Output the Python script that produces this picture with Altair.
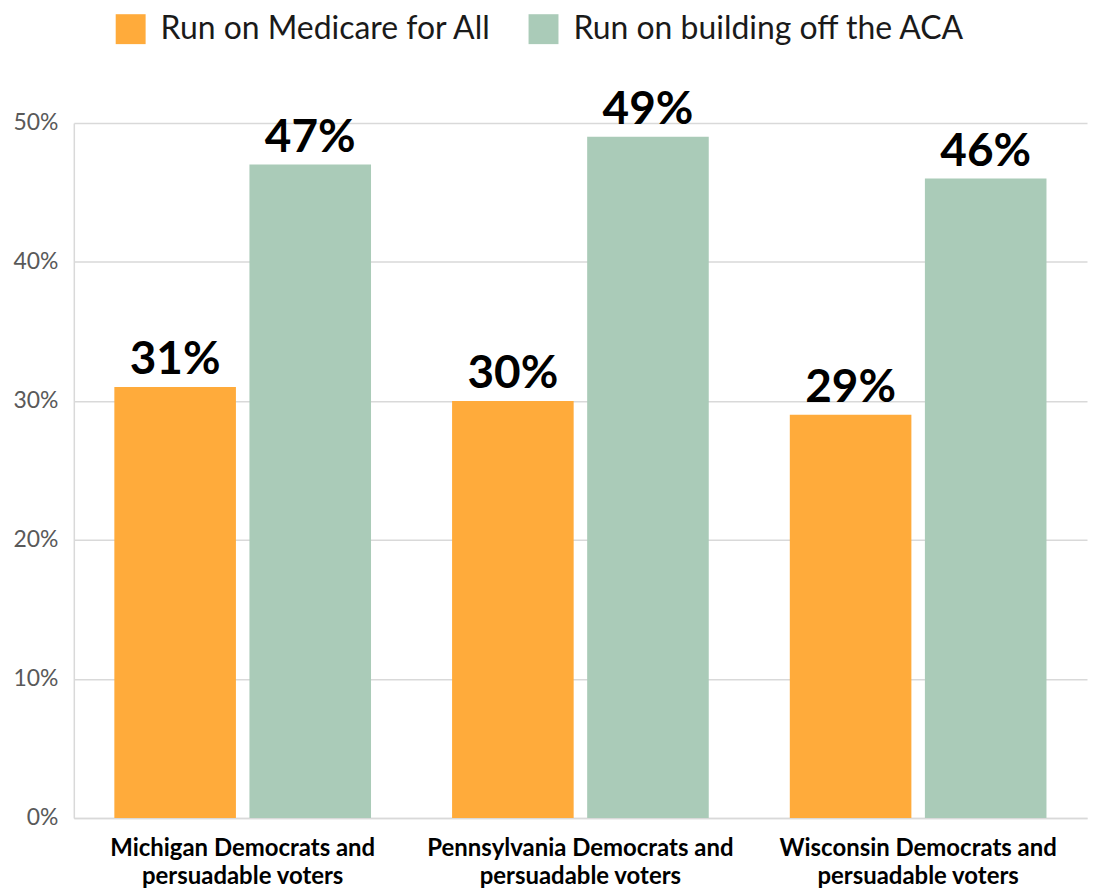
import altair as alt
import pandas as pd

groups = ["Michigan Democrats and|persuadable voters",
          "Pennsylvania Democrats and|persuadable voters",
          "Wisconsin Democrats and|persuadable voters"]
series = ["Run on Medicare for All", "Run on building off the ACA"]
medicare = [31, 30, 29]
aca = [47, 49, 46]
colors = ["#FFAB3B", "#AACBB8"]
y_ticks = [0, 10, 20, 30, 40, 50]

rows = []
for g, m, a in zip(groups, medicare, aca):
    rows.append({"group": g, "series": series[0], "value": m})
    rows.append({"group": g, "series": series[1], "value": a})
df = pd.DataFrame(rows)

FONT = "Lato"

x = alt.X("group:N", sort=groups, title=None,
          scale=alt.Scale(paddingInner=0.24, paddingOuter=0.12),
          axis=alt.Axis(labelAngle=0, labelExpr="split(datum.label, '|')",
                        ticks=False, domain=True, domainColor="#d9d9d9", domainWidth=1.5,
                        labelFont=FONT, labelFontSize=24, labelFontWeight="bold",
                        labelColor="#000000", labelPadding=19, labelLineHeight=28,
                        labelBaseline="top", labelLimit=0))
xo = alt.XOffset("series:N", sort=series, scale=alt.Scale(paddingInner=0.1))
y = alt.Y("value:Q", title=None,
          scale=alt.Scale(domain=[0, 50]),
          axis=alt.Axis(values=y_ticks, labelExpr="datum.value + '%'",
                        ticks=False, domain=True, domainColor="#d9d9d9", domainWidth=1.5,
                        grid=True, gridColor="#d9d9d9", gridWidth=1.5,
                        labelFont=FONT, labelFontSize=23, labelColor="#595959",
                        labelPadding=16, labelLimit=0))
color = alt.Color("series:N", sort=series,
                  scale=alt.Scale(domain=series, range=colors),
                  legend=alt.Legend(title=None, orient="none", legendX=41, legendY=-110,
                                    direction="horizontal", symbolType="square",
                                    symbolSize=900, symbolStrokeWidth=0,
                                    labelFont=FONT, labelFontSize=32, labelColor="#1a1a1a",
                                    labelOffset=14, columnPadding=36, padding=0,
                                    labelLimit=0))

base = alt.Chart(df)
bars = base.mark_bar().encode(x=x, xOffset=xo, y=y, color=color)
labels = base.mark_text(dy=-13, baseline="alphabetic", fontSize=46,
                        fontWeight="bold", font=FONT, color="#000000").encode(
    x=x, xOffset=xo, y=y, text=alt.Text("label:N"))
labels = labels.transform_calculate(label="datum.value + '%'")

chart = alt.layer(bars, labels).properties(
    width=1016, height=697,
    autosize=alt.AutoSizeParams(type="none"),
    padding={"left": 66, "top": 114, "right": 2, "bottom": 74},
).configure_view(stroke=None)

chart.save("out.html", embed_options={"renderer": "svg", "actions": False})
